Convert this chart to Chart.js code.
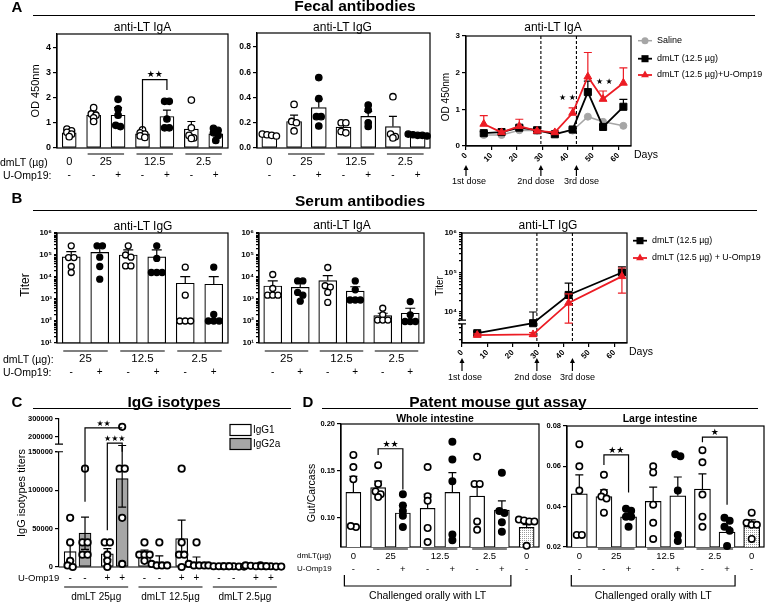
<!DOCTYPE html>
<html>
<head>
<meta charset="utf-8">
<title>dmLT / U-Omp19 antibody responses</title>
<script src="https://cdn.jsdelivr.net/npm/chart.js@4.4.1/dist/chart.umd.min.js"></script>
<style>
  body { margin: 0; background: #fff; }
  #fig { position: relative; width: 765px; height: 604px; overflow: hidden; background: #fff;
         font-family: "Liberation Sans", Arial, sans-serif; color: #000; }
  #fig canvas { position: absolute; left: 0; top: 0; }
  .t { position: absolute; white-space: nowrap; line-height: 1; transform: translate(-50%, -50%); }
  .t.l { transform: translate(0, -50%); }
  .t.v { transform: translate(-50%, -50%) rotate(-90deg); }
  .t.b { font-weight: bold; }
  .rule { position: absolute; height: 0; border-top: 1.5px solid #000; }
</style>
</head>
<body>
<div id="fig"></div>
<script>
// ---------- A: fecal antibodies (OD 450nm) ----------
const aDose = ['0', '25', '25', '12.5', '12.5', '2.5', '2.5'];
const aOmp = ['-', '-', '+', '-', '+', '-', '+'];
const aIgaMean = [0.60, 1.30, 1.30, 0.56, 1.25, 0.75, 0.56];
const aIgaSem = [0.05, 0.12, 0.30, 0.06, 0.25, 0.30, 0.08];
const aIgaDots = [
    [0.75, 0.68, 0.62, 0.55, 0.45],
    [1.60, 1.35, 1.30, 1.20, 1.05],
    [1.93, 1.55, 1.30, 0.90, 0.85],
    [0.72, 0.60, 0.55, 0.48, 0.42],
    [1.85, 1.85, 1.15, 0.80, 0.80],
    [1.90, 0.80, 0.50, 0.40, 0.38],
    [0.78, 0.70, 0.60, 0.50, 0.30]
];
const aIggMean = [0.10, 0.21, 0.32, 0.165, 0.25, 0.17, 0.10];
const aIggSem = [0.01, 0.05, 0.066, 0.025, 0.04, 0.08, 0.005];
const aIggDots = [
    [0.11, 0.105, 0.10, 0.095],
    [0.345, 0.21, 0.20, 0.135],
    [0.557, 0.39, 0.248, 0.248, 0.174],
    [0.20, 0.20, 0.13, 0.12],
    [0.34, 0.30, 0.20, 0.17],
    [0.406, 0.11, 0.09, 0.08],
    [0.11, 0.105, 0.10, 0.10, 0.095]
];
const odTicksIga = [0, 1, 2, 3, 4];
const odTicksIgg = [0, 0.2, 0.4, 0.6, 0.8];

// A time course
const aSeries = ['Saline', 'dmLT (12.5 µg)', 'dmLT (12.5 µg)+U-Omp19'];
const aDays = [7, 14, 21, 28, 35, 42, 48, 54, 62];
const aSaline = [0.30, 0.30, 0.43, 0.42, 0.35, 0.42, 0.80, 0.66, 0.55];
const aDm = [0.35, 0.38, 0.50, 0.43, 0.32, 0.45, 1.47, 0.52, 1.07];
const aDmSem = [0.04, 0.03, 0.05, 0.03, 0.03, 0.04, 0.30, 0.05, 0.20];
const aDmOmp = [0.60, 0.37, 0.54, 0.41, 0.37, 0.90, 1.89, 1.28, 1.72];
const aDmOmpSem = [0.23, 0.03, 0.19, 0.03, 0.03, 0.14, 0.66, 0.22, 0.41];
const odTicksTime = [0, 1, 2, 3];
const dayTicks = [0, 10, 20, 30, 40, 50, 60];
const doseDays = [0, 29.5, 43.5];
const doseNames = ['1st dose', '2nd dose', '3rd dose'];

// ---------- B: serum antibodies (titer) ----------
const bDose = ['25', '25', '12.5', '12.5', '2.5', '2.5'];
const bOmp = ['-', '+', '-', '+', '-', '+'];
const bIggMean = [83000, 132000, 100000, 83000, 5200, 4700];
const bIggSem = [58000, 98000, 70000, 87000, 5100, 5600];
const bIggDots = [
    [260000, 76000, 76000, 30000, 16000],
    [260000, 260000, 80000, 30000, 8000],
    [260000, 100000, 80000, 32000, 32000],
    [260000, 70000, 16000, 16000, 16000],
    [28000, 1500, 100, 100, 100],
    [28000, 200, 100, 100, 100]
];
const bIgaMean = [3900, 3400, 6800, 2300, 175, 225];
const bIgaSem = [2700, 2500, 4700, 1300, 50, 155];
const bIgaDots = [
    [13000, 3000, 1500, 1500, 1500],
    [6600, 6600, 2000, 1500, 800],
    [27000, 4000, 3500, 2000, 700],
    [6600, 2600, 900, 900, 900],
    [380, 190, 110, 110, 110],
    [760, 190, 95, 95, 95]
];
const bSeries = ['dmLT (12.5 µg)', 'dmLT (12.5 µg) + U-Omp19'];
const bDays = [6, 28, 42, 63];
const bDm = [2900, 5200, 27000, 100000];
const bDmSem = [300, 4800, 26700, 38000];
const bDmOmp = [2600, 2700, 17000, 80000];
const bDmOmpSem = [200, 300, 11800, 50000];

// ---------- C: IgG isotypes ----------
const cSeries = ['IgG1', 'IgG2a'];
const cGroup = ['dmLT 25µg', 'dmLT 25µg', 'dmLT 12.5µg', 'dmLT 12.5µg', 'dmLT 2.5µg', 'dmLT 2.5µg'];
const cOmp = ['-', '+', '-', '+', '-', '+'];
const cIgG1Mean = [20000, 17000, 17500, 37000, 1200, 1200];
const cIgG1Sem = [12000, 7000, 4500, 24000, 300, 300];
const cIgG2aMean = [44000, 115000, 6500, 6000, 800, 900];
const cIgG2aSem = [21000, 37000, 8000, 7000, 200, 300];
const cIgG1Dots = [
    [64000, 32000, 8000, 2000, 0],
    [32000, 32000, 16000, 8000, 0],
    [32000, 16000, 16000, 16000, 8000],
    [128000, 32000, 16000, 16000, 0],
    [2000, 1000, 1000, 1000, 1000],
    [2000, 1500, 1000, 1000, 1000]
];
const cIgG2aDots = [
    [128000, 32000, 32000, 16000, 16000],
    [256000, 128000, 128000, 64000, 4000],
    [32000, 4000, 2000, 2000, 2000],
    [32000, 4000, 2000, 2000, 2000],
    [1000, 1000, 1000, 500, 500],
    [2000, 1000, 1000, 500, 500]
];
const cTicks = [0, 50000, 100000, 150000, 200000, 300000];

// ---------- D: patent mouse gut assay ----------
const dDose = ['0', '25', '25', '12.5', '12.5', '2.5', '2.5', '0'];
const dOmp = ['-', '-', '+', '-', '+', '-', '+', '-'];
const dWholeMean = [0.127, 0.132, 0.105, 0.110, 0.127, 0.123, 0.108, 0.0896];
const dWholeSem = [0.017, 0.007, 0.008, 0.015, 0.021, 0.011, 0.010, 0.003];
const dWholeDots = [
    [0.167, 0.154, 0.141, 0.090, 0.091],
    [0.156, 0.136, 0.128, 0.125, 0.122],
    [0.125, 0.113, 0.107, 0.102, 0.090],
    [0.154, 0.123, 0.118, 0.089, 0.074],
    [0.181, 0.162, 0.139, 0.082, 0.076],
    [0.165, 0.136, 0.136, 0.096, 0.087],
    [0.148, 0.107, 0.105, 0.095, 0.085],
    [0.098, 0.097, 0.096, 0.096, 0.070]
];
const dLargeMean = [0.0464, 0.0450, 0.0349, 0.0426, 0.0454, 0.0487, 0.0274, 0.0302];
const dLargeSem = [0.0094, 0.0034, 0.0019, 0.0071, 0.0093, 0.0076, 0.0026, 0.0033];
const dLargeDots = [
    [0.071, 0.060, 0.048, 0.026, 0.026],
    [0.0558, 0.047, 0.045, 0.044, 0.037],
    [0.039, 0.038, 0.035, 0.035, 0.030],
    [0.060, 0.057, 0.041, 0.032, 0.024],
    [0.065, 0.066, 0.048, 0.026, 0.023],
    [0.068, 0.062, 0.046, 0.035, 0.030],
    [0.0345, 0.033, 0.030, 0.028, 0.0205],
    [0.037, 0.032, 0.031, 0.031, 0.024]
];
const dWholeTicks = [0.10, 0.15, 0.20];
const dLargeTicks = [0.02, 0.04, 0.06, 0.08];
const challengeText = 'Challenged orally with LT';

// ---------- setup ----------
const W = 765, H = 604;
const FF = '"Liberation Sans", Arial, sans-serif';
const STAR = '"DejaVu Sans", sans-serif';
const RED = '#ec1c24';
const fig = document.getElementById('fig');

Chart.defaults.font.family = FF;
Chart.defaults.color = '#000';
Chart.defaults.animation = false;
Chart.defaults.events = [];
Chart.defaults.plugins.legend.display = false;
Chart.defaults.plugins.tooltip.enabled = false;

// y axis with a gap (panel C)
class BrokenScale extends Chart.LinearScale {
    getPixelForValue(v) {
        const k = this.options.brk;
        const h = this.bottom - this.top;
        const d = v <= k.lo
            ? (v - this.min) / (k.lo - this.min) * k.loFrac
            : k.hiFrac + (v - k.hi) / (this.max - k.hi) * (1 - k.hiFrac);
        return this.bottom - d * h;
    }
}
BrokenScale.id = 'broken';

// error bars drawn right after their own dataset
const errPlugin = {
    id: 'errs',
    afterDatasetDraw(chart, args) {
        const ds = chart.data.datasets[args.index];
        if (!ds.err) return;
        const ctx = chart.ctx, ys = chart.scales[args.meta.yAxisID];
        const cap = ds.errCap || 4;
        ctx.save();
        ctx.strokeStyle = ds.errColor || '#000';
        ctx.lineWidth = 1.2;
        args.meta.data.forEach((el, i) => {
            const v = ds.data[i].y, e = ds.err[i];
            if (v == null || !e) return;
            const ends = [ys.getPixelForValue(v + e)];
            if (ds.errBoth) ends.push(ys.getPixelForValue(v - e));
            ctx.beginPath();
            ends.forEach(py => {
                ctx.moveTo(el.x, el.y); ctx.lineTo(el.x, py);
                ctx.moveTo(el.x - cap, py); ctx.lineTo(el.x + cap, py);
            });
            ctx.stroke();
        });
        ctx.restore();
    }
};

const framePlugin = {
    id: 'frame',
    beforeDatasetsDraw(chart, args, o) {
        const a = chart.chartArea, ctx = chart.ctx;
        ctx.save();
        ctx.strokeStyle = '#000'; ctx.lineWidth = 1.2;
        if (o.box) ctx.strokeRect(a.left, a.top, a.right - a.left, a.bottom - a.top);
        if (o.base) { ctx.beginPath(); ctx.moveTo(a.left, a.bottom); ctx.lineTo(a.right, a.bottom); ctx.stroke(); }
        ctx.restore();
    },
    afterDraw(chart, args, o) {
        if (!o.brk) return;
        const a = chart.chartArea, ctx = chart.ctx, sy = chart.scales.y;
        const y1 = sy.getPixelForValue(o.brk[0]), y2 = sy.getPixelForValue(o.brk[1]);
        const top = Math.min(y1, y2), bot = Math.max(y1, y2);
        ctx.save();
        ctx.fillStyle = '#fff';
        ctx.fillRect(a.left - 2, top, 4, bot - top);
        ctx.strokeStyle = '#000'; ctx.lineWidth = 1.2;
        ctx.beginPath();
        [top, bot].forEach(y => { ctx.moveTo(a.left - 4, y); ctx.lineTo(a.left + 4, y); });
        ctx.stroke();
        ctx.restore();
    }
};

// category rows under the bar charts
const rowsPlugin = {
    id: 'rows',
    afterDraw(chart, args, o) {
        if (!o || !o.xs) return;
        const ctx = chart.ctx, sx = chart.scales.x;
        const px = o.xs.map(v => sx.getPixelForValue(v));
        ctx.save();
        ctx.fillStyle = '#000'; ctx.strokeStyle = '#000'; ctx.lineWidth = 1.2;
        ctx.textAlign = 'center'; ctx.textBaseline = 'middle';
        ctx.font = o.font;
        for (let i = 0; i < o.groups.length;) {
            let j = i;
            while (j + 1 < o.groups.length && o.groups[j + 1] === o.groups[i]) j++;
            if (j > i) {
                ctx.beginPath(); ctx.moveTo(px[i] - o.ext, o.lineY); ctx.lineTo(px[j] + o.ext, o.lineY); ctx.stroke();
            }
            ctx.fillText(o.groups[i], (px[i] + px[j]) / 2, o.textY);
            i = j + 1;
        }
        ctx.font = o.signFont;
        o.signs.forEach((s, k) => ctx.fillText(s, px[k], o.signY));
        const ch = o.challenge;
        if (ch) {
            const a = px[ch.from] - ch.ext, b = px[ch.to] + ch.ext;
            ctx.beginPath();
            ctx.moveTo(a, ch.y1); ctx.lineTo(a, ch.y2); ctx.lineTo(b, ch.y2); ctx.lineTo(b, ch.y1);
            ctx.stroke();
            ctx.font = ch.font;
            ctx.fillText(ch.text, (a + b) / 2, ch.textY);
        }
        ctx.restore();
    }
};

// significance brackets and star notes
const annPlugin = {
    id: 'ann',
    afterDatasetsDraw(chart, args, o) {
        const ctx = chart.ctx, sx = chart.scales.x, sy = chart.scales.y;
        ctx.save();
        ctx.strokeStyle = '#000'; ctx.fillStyle = '#000'; ctx.lineWidth = 1.2;
        ctx.textAlign = 'center'; ctx.textBaseline = 'bottom';
        ctx.font = o.starFont || ('9px ' + STAR);
        (o.brackets || []).forEach(b => {
            const x1 = sx.getPixelForValue(b.a), x2 = sx.getPixelForValue(b.b), y = sy.getPixelForValue(b.y);
            ctx.beginPath();
            ctx.moveTo(x1, sy.getPixelForValue(b.ya)); ctx.lineTo(x1, y);
            ctx.lineTo(x2, y); ctx.lineTo(x2, sy.getPixelForValue(b.yb));
            ctx.stroke();
            ctx.fillText(b.text, (x1 + x2) / 2, y);
        });
        ctx.textBaseline = 'middle';
        (o.notes || []).forEach(n => ctx.fillText(n.text, sx.getPixelForValue(n.x), sy.getPixelForValue(n.y)));
        ctx.restore();
    }
};

// dose markers for the time courses
const dosePlugin = {
    id: 'dose',
    beforeDatasetsDraw(chart, args, o) {
        if (!o || !o.days) return;
        const ctx = chart.ctx, a = chart.chartArea, sx = chart.scales.x;
        ctx.save();
        ctx.setLineDash([3, 2]); ctx.strokeStyle = '#000'; ctx.lineWidth = 1.1;
        o.days.slice(1).forEach(d => {
            const x = sx.getPixelForValue(d);
            ctx.beginPath(); ctx.moveTo(x, a.top); ctx.lineTo(x, a.bottom); ctx.stroke();
        });
        ctx.restore();
    },
    afterDraw(chart, args, o) {
        if (!o || !o.days) return;
        const ctx = chart.ctx, sx = chart.scales.x;
        ctx.save();
        ctx.fillStyle = '#000'; ctx.strokeStyle = '#000'; ctx.lineWidth = 1.2;
        ctx.font = o.font; ctx.textAlign = 'center'; ctx.textBaseline = 'middle';
        o.days.forEach((d, i) => {
            const x = sx.getPixelForValue(d);
            ctx.beginPath(); ctx.moveTo(x, o.base); ctx.lineTo(x, o.tip + 4); ctx.stroke();
            ctx.beginPath(); ctx.moveTo(x, o.tip); ctx.lineTo(x - 2.5, o.tip + 5); ctx.lineTo(x + 2.5, o.tip + 5); ctx.closePath(); ctx.fill();
            ctx.fillText(o.names[i], x + o.dx[i], o.labelY);
        });
        ctx.restore();
    }
};

const keyPlugin = {
    id: 'key',
    afterDraw(chart, args, o) {
        if (!o || !o.items) return;
        const ctx = chart.ctx;
        ctx.save();
        ctx.font = o.font; ctx.textBaseline = 'middle'; ctx.textAlign = 'left';
        o.items.forEach((k, n) => {
            const ds = chart.data.datasets[k], y = o.y[n];
            if (o.box) {
                ctx.fillStyle = ds.backgroundColor;
                ctx.fillRect(o.x, y - o.h / 2, o.len, o.h);
                ctx.strokeStyle = '#000'; ctx.lineWidth = 1.2;
                ctx.strokeRect(o.x, y - o.h / 2, o.len, o.h);
            } else {
                ctx.strokeStyle = ds.borderColor; ctx.lineWidth = ds.borderWidth;
                ctx.beginPath(); ctx.moveTo(o.x, y); ctx.lineTo(o.x + o.len, y); ctx.stroke();
                ctx.fillStyle = ds.pointBackgroundColor;
                Chart.helpers.drawPoint(ctx, { pointStyle: ds.pointStyle, radius: ds.pointRadius, borderWidth: 0 }, o.x + o.len / 2, y);
            }
            ctx.fillStyle = '#000';
            ctx.fillText(ds.label, o.x + o.len + o.gap, y);
        });
        ctx.restore();
    }
};

Chart.register(BrokenScale, errPlugin, framePlugin, rowsPlugin, annPlugin, dosePlugin, keyPlugin);

// ---------- helpers ----------
function newCtx() {
    const c = document.createElement('canvas');
    c.width = W; c.height = H;
    c.style.width = W + 'px'; c.style.height = H + 'px';
    fig.appendChild(c);
    return c.getContext('2d');
}

function pad(b, yw, xh) {
    return { left: b.l - yw, top: b.t, right: W - b.r, bottom: H - b.b - xh };
}

function setTicks(list) {
    return s => { s.ticks = list.map(v => ({ value: v })); };
}

function logTicks(min, max) {
    const out = [];
    for (let e = Math.floor(Math.log10(min)); e <= Math.ceil(Math.log10(max)); e++) {
        for (let m = 1; m < 10; m++) {
            const v = m * Math.pow(10, e);
            if (v >= min && v <= max * 1.0001) out.push(v);
        }
    }
    return out;
}

const SUP = '⁰¹²³⁴⁵⁶⁷⁸⁹';
function powLabel(v) {
    const e = Math.log10(v);
    return Math.abs(e - Math.round(e)) < 1e-6 ? '10' + SUP[Math.round(e)] : '';
}

// spread dots of similar value side by side, like a column scatter
function spread(vals, tol, step, f) {
    f = f || (v => v);
    const order = vals.map((v, i) => i).sort((a, b) => f(vals[b]) - f(vals[a]));
    const off = vals.map(() => 0);
    let row = [];
    const flush = () => row.forEach((k, j) => { off[k] = (j - (row.length - 1) / 2) * step; });
    order.forEach(k => {
        if (row.length && f(vals[row[0]]) - f(vals[k]) > tol) { flush(); row = []; }
        row.push(k);
    });
    flush();
    return off;
}

function dotData(groups, xs, filled, want, tol, step, f) {
    const out = [];
    groups.forEach((vals, i) => {
        if (!!filled[i] !== want) return;
        const off = spread(vals, tol, step, f);
        vals.forEach((v, k) => out.push({ x: xs[i] + off[k], y: v }));
    });
    return out;
}

function yAxis(o) {
    return {
        type: o.type || 'linear', position: 'left', min: o.min, max: o.max,
        afterFit: s => { s.width = 40; },
        afterBuildTicks: setTicks(o.ticks),
        grid: { drawOnChartArea: false, tickLength: o.tl || 4, color: '#000', lineWidth: 1.2 },
        border: { display: true, color: '#000', width: 1.2 },
        ticks: { color: '#000', autoSkip: false, padding: 2, font: { size: o.size, weight: 'bold' }, callback: o.fmt },
        brk: o.brk
    };
}

function barChart(c) {
    const datasets = [];
    c.bars.forEach(b => {
        datasets.push({
            type: 'bar', label: b.label,
            data: b.xs.map((x, i) => ({ x, y: b.mean[i] })),
            backgroundColor: b.fill, borderColor: '#000', borderWidth: 1.2, borderSkipped: false,
            barThickness: c.barW, grouped: false, order: 3,
            err: b.sem, errBoth: !!c.both, errCap: c.cap
        });
    });
    c.bars.forEach(b => [false, true].forEach(full => {
        const data = dotData(b.dots, b.xs, b.filled, full, c.tol, c.step, c.f);
        if (!data.length) return;
        datasets.push({
            type: 'scatter', data, order: 1, clip: false,
            pointRadius: c.dotR, pointBorderWidth: c.dotBW || 1.3,
            pointBackgroundColor: full ? '#000' : '#fff', pointBorderColor: '#000'
        });
    }));
    return new Chart(newCtx(), {
        type: 'bar',
        data: { datasets },
        options: {
            responsive: false,
            layout: { padding: pad(c.box, 40, 0), autoPadding: false },
            scales: {
                x: { type: 'linear', display: false, min: c.xmin, max: c.xmax, offset: false },
                y: c.y
            },
            plugins: {
                frame: c.frame || { box: true },
                rows: c.rows,
                ann: c.ann || {},
                key: c.key
            }
        }
    });
}

function series(label, days, vals, sem, color, style, r, lw, order, both) {
    return {
        label, order,
        data: days.map((d, i) => ({ x: d, y: vals[i] })),
        borderColor: color, backgroundColor: color, borderWidth: lw,
        pointStyle: style, pointRadius: r, pointBorderWidth: 1,
        pointBackgroundColor: color, pointBorderColor: color,
        err: sem, errColor: color, errCap: 4, errBoth: both
    };
}

function lineChart(c) {
    return new Chart(newCtx(), {
        type: 'line',
        data: { datasets: c.series },
        options: {
            responsive: false,
            layout: { padding: pad(c.box, 40, 20), autoPadding: false },
            scales: {
                x: {
                    type: 'linear', min: 0, max: 65,
                    afterFit: s => { s.height = 20; },
                    afterBuildTicks: setTicks(dayTicks),
                    grid: { drawOnChartArea: false, tickLength: 4, color: '#000', lineWidth: 1.2 },
                    border: { display: true, color: '#000', width: 1.2 },
                    ticks: { color: '#000', autoSkip: false, minRotation: 45, maxRotation: 45, padding: 1, font: { size: 8, weight: 'bold' } }
                },
                y: c.y
            },
            plugins: { frame: { box: true, brk: c.brk }, dose: c.dose, key: c.key, ann: c.ann || {} }
        }
    });
}

// ---------- A ----------
const aX = aDose.map((d, i) => i);
const aFilled = aOmp.map(s => s === '+');
const aRows = { xs: aX, groups: aDose, signs: aOmp, lineY: 154, textY: 162, signY: 175, ext: 6,
                font: '11px ' + FF, signFont: '10px ' + FF };

barChart({
    box: { l: 57, t: 34, r: 228, b: 148 }, xmin: -0.5, xmax: 6.5,
    bars: [{ xs: aX, mean: aIgaMean, sem: aIgaSem, dots: aIgaDots, filled: aFilled, fill: '#fff' }],
    y: yAxis({ min: 0, max: 4.52, ticks: odTicksIga, size: 9, fmt: v => String(v) }),
    barW: 14, cap: 4, dotR: 3.2, tol: 0.1, step: 0.19,
    rows: aRows,
    ann: { brackets: [{ a: 3, b: 4, y: 2.71, ya: 0.75, yb: 2.3, text: '★★' }], starFont: '9px ' + STAR }
});

barChart({
    box: { l: 257, t: 33, r: 430, b: 148 }, xmin: -0.5, xmax: 6.5,
    bars: [{ xs: aX, mean: aIggMean, sem: aIggSem, dots: aIggDots, filled: aFilled, fill: '#fff' }],
    y: yAxis({ min: 0, max: 0.91, ticks: odTicksIgg, size: 8.5, fmt: v => v.toFixed(1) }),
    barW: 15, cap: 4, dotR: 3.2, tol: 0.025, step: 0.19,
    rows: aRows
});

lineChart({
    box: { l: 466, t: 36, r: 631, b: 146 },
    series: [
        series(aSeries[0], aDays, aSaline, null, '#a6a6a6', 'circle', 3.5, 1.5, 3, false),
        series(aSeries[1], aDays, aDm, aDmSem, '#000', 'rect', 5, 1.8, 2, false),
        series(aSeries[2], aDays, aDmOmp, aDmOmpSem, RED, 'triangle', 4.5, 1.8, 1, false)
    ],
    y: yAxis({ min: 0, max: 3, ticks: odTicksTime, size: 8, fmt: v => String(v) }),
    dose: { days: doseDays, names: doseNames, dx: [3, -5, 5], tip: 165, base: 176, labelY: 182, font: '9px ' + FF },
    key: { items: [0, 1, 2], x: 638, len: 14, gap: 5, y: [40.7, 58.7, 75], font: '9px ' + FF },
    ann: { notes: [{ x: 40, y: 1.3, text: '★ ★' }, { x: 54.5, y: 1.74, text: '★ ★' }], starFont: '8px ' + STAR }
});

// ---------- B ----------
const bX = bDose.map((d, i) => i);
const bFilled = bOmp.map(s => s === '+');
const bRows = { xs: bX, groups: bDose, signs: bOmp, lineY: 351, textY: 358.5, signY: 372, ext: 8,
                font: '11.5px ' + FF, signFont: '10px ' + FF };
const titerAxis = () => yAxis({ type: 'logarithmic', min: 10, max: 1e6, ticks: logTicks(10, 1e6), size: 8, tl: 3, fmt: powLabel });

barChart({
    box: { l: 57, t: 233, r: 228, b: 343 }, xmin: -0.5, xmax: 5.5,
    bars: [{ xs: bX, mean: bIggMean, sem: bIggSem, dots: bIggDots, filled: bFilled, fill: '#fff' }],
    y: titerAxis(),
    barW: 18, cap: 5, dotR: 3, tol: 0.15, step: 0.19, f: Math.log10,
    rows: bRows
});

barChart({
    box: { l: 259, t: 233, r: 424, b: 343 }, xmin: -0.5, xmax: 5.5,
    bars: [{ xs: bX, mean: bIgaMean, sem: bIgaSem, dots: bIgaDots, filled: bFilled, fill: '#fff' }],
    y: titerAxis(),
    barW: 18, cap: 5, dotR: 3, tol: 0.15, step: 0.19, f: Math.log10,
    rows: bRows
});

lineChart({
    box: { l: 462, t: 233, r: 627, b: 343 },
    series: [
        series(bSeries[0], bDays, bDm, bDmSem, '#000', 'rect', 5, 1.8, 2, false),
        series(bSeries[1], bDays, bDmOmp, bDmOmpSem, RED, 'triangle', 4.5, 1.8, 1, true)
    ],
    y: yAxis({ type: 'logarithmic', min: 1640, max: 1e6, ticks: logTicks(1640, 1e6), size: 8, tl: 3, fmt: powLabel }),
    brk: [5000, 6200],
    dose: { days: doseDays, names: doseNames, dx: [3, -4, 5], tip: 358, base: 371, labelY: 378, font: '9px ' + FF },
    key: { items: [0, 1], x: 633, len: 14, gap: 5, y: [240.7, 258], font: '8.9px ' + FF }
});

// ---------- C ----------
const cX1 = cGroup.map((g, i) => i - 0.2);
const cX2 = cGroup.map((g, i) => i + 0.2);
barChart({
    box: { l: 59, t: 419, r: 282, b: 567 }, xmin: -0.5, xmax: 5.5,
    bars: [
        { label: cSeries[0], xs: cX1, mean: cIgG1Mean, sem: cIgG1Sem, dots: cIgG1Dots, filled: [], fill: '#fff' },
        { label: cSeries[1], xs: cX2, mean: cIgG2aMean, sem: cIgG2aSem, dots: cIgG2aDots, filled: [], fill: '#a6a6a6' }
    ],
    y: yAxis({ type: 'broken', min: 0, max: 300000, ticks: cTicks, size: 7.5, fmt: v => String(v),
               brk: { lo: 150000, hi: 160000, loFrac: 0.7786, hiFrac: 0.8307 } }),
    both: true, barW: 12, cap: 4, dotR: 3.2, dotBW: 1.8, tol: 5000, step: 0.14,
    frame: { base: true, brk: [150000, 160000] },
    rows: { xs: cGroup.flatMap((g, i) => [i - 0.2, i + 0.2]), groups: cGroup.flatMap(g => [g, g]),
            signs: cOmp.flatMap(s => [s, s]), lineY: 587, textY: 597, signY: 578, ext: 6,
            font: '10px ' + FF, signFont: '10px ' + FF },
    ann: {
        brackets: [
            { a: 0.2, b: 1.2, y: 250000, ya: 85000, yb: 250000, text: '★★' },
            { a: 0.8, b: 1.2, y: 165000, ya: 48000, yb: 150000, text: '★★★' }
        ],
        starFont: '8px ' + STAR
    },
    key: { box: true, items: [0, 1], x: 230, len: 21, h: 11, gap: 2, y: [430, 444], font: '10px ' + FF }
});

// ---------- D ----------
const dX = dDose.map((d, i) => i);
const dFilled = dOmp.map(s => s === '+');
const tile = document.createElement('canvas');
tile.width = 2; tile.height = 2;
const tg = tile.getContext('2d');
tg.fillStyle = '#fff'; tg.fillRect(0, 0, 2, 2);
tg.fillStyle = '#9a9a9a'; tg.fillRect(0, 0, 1, 1);
const dotted = tg.createPattern(tile, 'repeat');
const dFill = dDose.map((d, i) => i === dDose.length - 1 ? dotted : '#fff');
const dRows = (ext, chExt) => ({
    xs: dX, groups: dDose, signs: dOmp, lineY: 549, textY: 556, signY: 569, ext,
    font: '9.5px ' + FF, signFont: '9.5px ' + FF,
    challenge: { from: 0, to: 6, ext: chExt, y1: 575, y2: 586, textY: 596, text: challengeText, font: '10.5px ' + FF }
});

barChart({
    box: { l: 341, t: 424, r: 539, b: 547 }, xmin: -0.5, xmax: 7.5,
    bars: [{ xs: dX, mean: dWholeMean, sem: dWholeSem, dots: dWholeDots, filled: dFilled, fill: dFill }],
    y: yAxis({ min: 0.0687, max: 0.2, ticks: dWholeTicks, size: 7.5, fmt: v => v.toFixed(2) }),
    barW: 15, cap: 4, dotR: 3.2, dotBW: 1.6, tol: 0.0045, step: 0.21,
    rows: dRows(5, 9),
    ann: { brackets: [{ a: 1, b: 2, y: 0.1736, ya: 0.167, yb: 0.130, text: '★★' }], starFont: '9px ' + STAR }
});

barChart({
    box: { l: 567, t: 426, r: 764, b: 547 }, xmin: -0.5, xmax: 7.5,
    bars: [{ xs: dX, mean: dLargeMean, sem: dLargeSem, dots: dLargeDots, filled: dFilled, fill: dFill }],
    y: yAxis({ min: 0.02, max: 0.08, ticks: dLargeTicks, size: 7.5, fmt: v => v.toFixed(2) }),
    barW: 16, cap: 4, dotR: 3.2, dotBW: 1.6, tol: 0.002, step: 0.21,
    rows: dRows(6, 8),
    ann: {
        brackets: [
            { a: 1, b: 2, y: 0.0657, ya: 0.0607, yb: 0.047, text: '★★' },
            { a: 5, b: 6, y: 0.0745, ya: 0.072, yb: 0.041, text: '★' }
        ],
        starFont: '9px ' + STAR
    }
});

// ---------- page text ----------
function put(text, x, y, size, cls) {
    const d = document.createElement('div');
    d.className = 't ' + (cls || '');
    d.textContent = text;
    d.style.left = x + 'px'; d.style.top = y + 'px'; d.style.fontSize = size + 'px';
    fig.appendChild(d);
}
function rule(x1, x2, y) {
    const d = document.createElement('div');
    d.className = 'rule';
    d.style.left = x1 + 'px'; d.style.width = (x2 - x1) + 'px'; d.style.top = y + 'px';
    fig.appendChild(d);
}

put('A', 17, 6, 15, 'b'); put('Fecal antibodies', 355, 6, 15.5, 'b'); rule(33, 755, 15);
put('B', 17, 197, 15, 'b'); put('Serum antibodies', 360, 201, 15.5, 'b'); rule(33, 757, 210);
put('C', 17, 401, 15, 'b'); put('IgG isotypes', 174, 402, 15.5, 'b'); rule(33, 291, 408);
put('D', 308, 401, 15, 'b'); put('Patent mouse gut assay', 498, 402, 15.5, 'b'); rule(322, 758, 408);

put('anti-LT IgA', 142.5, 27, 12); put('anti-LT IgG', 342.5, 27, 12); put('anti-LT IgA', 553, 27, 12);
put('anti-LT IgG', 143, 225.5, 12); put('anti-LT IgA', 342, 225, 12); put('anti-LT IgG', 548, 225, 12);
put('Whole intestine', 435, 418, 10.5, 'b'); put('Large intestine', 660, 418, 10.5, 'b');

put('OD 450nm', 35, 91, 11, 'v'); put('OD 450nm', 446, 97, 10, 'v');
put('Titer', 25, 285, 12, 'v'); put('Titer', 440, 286, 10, 'v');
put('IgG isotypes titers', 21, 493, 11, 'v'); put('Gut/Carcass', 311, 493, 10.5, 'v');
put('Days', 646, 154, 10.5); put('Days', 641, 351, 10.5);

put('dmLT (µg)', 0, 162, 10.5, 'l'); put('U-Omp19:', 3, 175, 10.5, 'l');
put('dmLT (µg):', 3, 358.5, 10.5, 'l'); put('U-Omp19:', 3, 372, 10.5, 'l');
put('U-Omp19', 18, 578, 9.5, 'l');
put('dmLT(µg)', 297, 556, 8, 'l'); put('U-Omp19', 297, 569, 8, 'l');
</script>
</body>
</html>
